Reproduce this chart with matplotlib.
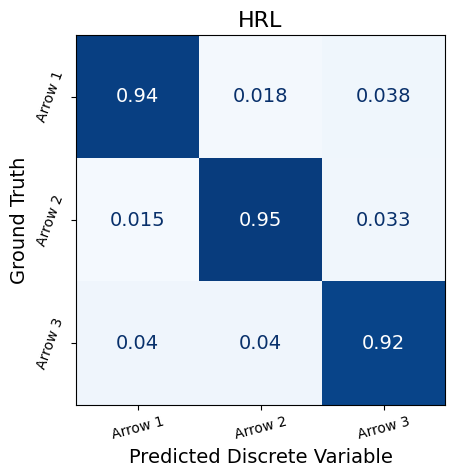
import matplotlib
matplotlib.use("Agg")
import matplotlib.pyplot as plt
import numpy as np

labels = ["Arrow 1", "Arrow 2", "Arrow 3"]
row1 = [0.94, 0.018, 0.038]
row2 = [0.015, 0.95, 0.033]
row3 = [0.04, 0.04, 0.92]
cm = np.array([row1, row2, row3])

fig = plt.figure(figsize=(4.55, 4.73), dpi=100)
ax = fig.add_axes([76/455, 1-405/473, 369/455, 370/473])
cmap = plt.get_cmap("Blues")
ax.imshow(cm, cmap=cmap, vmin=0, vmax=1, aspect="auto")
for i in range(3):
    for j in range(3):
        v = cm[i, j]
        ax.text(j, i, f"{v:g}", ha="center", va="center", fontsize=14,
                color="white" if v > 0.5 else cmap(1.0))
ax.set_xticks(range(3))
ax.set_yticks(range(3))
ax.set_xticklabels(labels, rotation=15, fontsize=10)
ax.set_yticklabels(labels, rotation=70, fontsize=10, va="center")
ax.set_xlabel("Predicted Discrete Variable", fontsize=14)
ax.set_ylabel("Ground Truth", fontsize=14)
ax.set_title("HRL", fontsize=16)
fig.savefig("out.png", dpi=100)
